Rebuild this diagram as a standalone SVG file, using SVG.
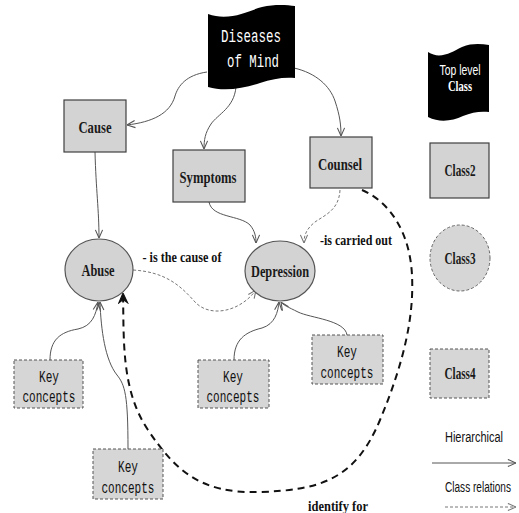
<svg xmlns="http://www.w3.org/2000/svg" width="519" height="513" viewBox="0 0 519 513">
<style>
.box{fill:#d3d3d3;stroke:#404040;stroke-width:1.2}
.kc{fill:#d6d6d6;stroke:#555;stroke-width:1;stroke-dasharray:3,2}
.ell{fill:#d3d3d3;stroke:#555;stroke-width:1.2}
.ell3{fill:#d6d6d6;stroke:#666;stroke-width:1;stroke-dasharray:3,2}
.flag{fill:#000}
.bt{font-family:"Liberation Serif",serif;font-weight:bold;font-size:17px;fill:#1a1a1a;text-anchor:middle}
.lb{font-family:"Liberation Serif",serif;font-weight:bold;font-size:15px;fill:#111;text-anchor:middle}
.mono{font-family:"Liberation Mono",monospace;font-size:17px;fill:#111;text-anchor:middle}
.monow{font-family:"Liberation Mono",monospace;font-size:18px;fill:#fff;text-anchor:middle}
.sans{font-family:"Liberation Sans",sans-serif;font-size:14px;fill:#111;text-anchor:middle}
.h{fill:none;stroke:#555;stroke-width:1}
.r{fill:none;stroke:#777;stroke-width:1;stroke-dasharray:3,2}
.idf{fill:none;stroke:#111;stroke-width:2;stroke-dasharray:7,5}
</style>
<defs>
<marker id="ah" viewBox="0 0 10 10" refX="10" refY="5" markerWidth="9" markerHeight="9" orient="auto" markerUnits="userSpaceOnUse"><path d="M1,1 L10,5 L1,9" fill="none" stroke="#555" stroke-width="1.2"/></marker>
<marker id="ar" viewBox="0 0 10 10" refX="10" refY="5" markerWidth="9" markerHeight="9" orient="auto" markerUnits="userSpaceOnUse"><path d="M1,1 L10,5 L1,9" fill="none" stroke="#777" stroke-width="1.2"/></marker>
<marker id="ak" viewBox="0 0 10 10" refX="10" refY="5" markerWidth="11" markerHeight="11" orient="auto" markerUnits="userSpaceOnUse"><path d="M1,1 L10,5 L1,9 L4,5 Z" fill="#111" stroke="#111" stroke-width="1"/></marker>
</defs>

<g id="connectors">
<path class="h" d="M207,72 C186,75 178,86 175,96 C170,114 152,122 127,125" marker-end="url(#ah)"/>
<path class="h" d="M236,87 C234,108 218,114 211,124 C205,133 204,140 204,149" marker-end="url(#ah)"/>
<path class="h" d="M294,68 C316,73 330,86 335,101 C340,116 341,125 341,136" marker-end="url(#ah)"/>
<path class="h" d="M95,152 C96,190 99,210 99,238" marker-end="url(#ah)"/>
<path class="h" d="M209,202 C212,218 240,215 250,225 C255,231 256,237 256,243" marker-end="url(#ah)"/>
<path class="h" d="M50,360 C50,340 60,332 78,329 C92,326 96,315 98,302" marker-end="url(#ah)"/>
<path class="h" d="M128,449 C128,395 125,385 117,375 C105,360 101,330 100,302" marker-end="url(#ah)"/>
<path class="h" d="M234,360 C234,340 245,332 262,328 C275,324 278,312 279,302" marker-end="url(#ah)"/>
<path class="h" d="M347,335 C345,320 310,318 298,312 C288,307 283,305 281,302" marker-end="url(#ah)"/>
<path class="r" d="M133,270 C165,272 180,285 195,302 C210,318 240,312 256,290" marker-end="url(#ar)"/>
<path class="r" d="M340,190 C339,210 325,215 315,222 C305,230 304,237 304,243" marker-end="url(#ar)"/>
<path class="idf" d="M362,190 C392,203 410,235 412,275 S405,360 380,420 S320,490 260,492 S175,470 148,430 S124,340 123,293" marker-end="url(#ak)"/>
<text class="lb" x="182" y="262" textLength="79" lengthAdjust="spacingAndGlyphs">- is the cause of</text>
<text class="lb" x="356" y="245" textLength="72" lengthAdjust="spacingAndGlyphs">-is carried out</text>
<text class="lb" x="338" y="511" textLength="60" lengthAdjust="spacingAndGlyphs">identify  for</text>
</g>

<g id="diseases">
<path class="flag" d="M208,14 C230,22 250,10 262,7 C275,4 287,5 295,6 L295,78 C283,77 272,79 260,83 C245,88 225,92 208,87 Z"/>
<text class="monow" x="251" y="42" textLength="60" lengthAdjust="spacingAndGlyphs">Diseases</text>
<text class="monow" x="253" y="67" textLength="52" lengthAdjust="spacingAndGlyphs">of Mind</text>
</g>

<g id="cause">
<rect class="box" x="64" y="100" width="62" height="52"/>
<text class="bt" x="95" y="133" textLength="33" lengthAdjust="spacingAndGlyphs">Cause</text>
</g>
<g id="symptoms">
<rect class="box" x="173" y="150" width="72" height="52"/>
<text class="bt" x="208" y="183" textLength="57" lengthAdjust="spacingAndGlyphs">Symptoms</text>
</g>
<g id="counsel">
<rect class="box" x="310" y="137" width="62" height="51"/>
<text class="bt" x="340" y="170" textLength="44" lengthAdjust="spacingAndGlyphs">Counsel</text>
</g>
<g id="abuse">
<ellipse class="ell" cx="99" cy="270" rx="34" ry="31"/>
<text class="bt" x="98" y="276" textLength="33" lengthAdjust="spacingAndGlyphs">Abuse</text>
</g>
<g id="depression">
<ellipse class="ell" cx="280" cy="271" rx="35" ry="30"/>
<text class="bt" x="280" y="277" textLength="58" lengthAdjust="spacingAndGlyphs">Depression</text>
</g>

<g id="kc1">
<rect class="kc" x="14" y="360" width="69" height="48"/>
<text class="mono" x="49" y="382" textLength="20" lengthAdjust="spacingAndGlyphs">Key</text>
<text class="mono" x="49" y="402" textLength="53" lengthAdjust="spacingAndGlyphs">concepts</text>
</g>
<g id="kc2">
<rect class="kc" x="198" y="360" width="71" height="48"/>
<text class="mono" x="233" y="382" textLength="20" lengthAdjust="spacingAndGlyphs">Key</text>
<text class="mono" x="233" y="402" textLength="53" lengthAdjust="spacingAndGlyphs">concepts</text>
</g>
<g id="kc3">
<rect class="kc" x="93" y="449" width="70" height="50"/>
<text class="mono" x="128" y="472" textLength="20" lengthAdjust="spacingAndGlyphs">Key</text>
<text class="mono" x="128" y="493" textLength="53" lengthAdjust="spacingAndGlyphs">concepts</text>
</g>
<g id="kc4">
<rect class="kc" x="312" y="335" width="71" height="49"/>
<text class="mono" x="347" y="357" textLength="20" lengthAdjust="spacingAndGlyphs">Key</text>
<text class="mono" x="347" y="378" textLength="53" lengthAdjust="spacingAndGlyphs">concepts</text>
</g>

<g id="legend-top">
<path class="flag" d="M428,52 C440,60 452,52 462,47 C472,43 481,44 489,45 L489,112 C481,111 472,112 463,116 C452,121 440,123 428,117 Z"/>
<text x="460" y="75" textLength="41" lengthAdjust="spacingAndGlyphs" style="font-family:'Liberation Sans',sans-serif;font-size:15px;fill:#fff;text-anchor:middle">Top level</text>
<text x="460" y="91" textLength="24" lengthAdjust="spacingAndGlyphs" style="font-family:'Liberation Serif',serif;font-weight:bold;font-size:15px;fill:#fff;text-anchor:middle">Class</text>
</g>
<g id="legend-class2">
<rect class="box" x="430" y="143" width="59" height="55"/>
<text class="bt" x="460" y="176" textLength="31" lengthAdjust="spacingAndGlyphs">Class2</text>
</g>
<g id="legend-class3">
<ellipse class="ell3" cx="460" cy="258" rx="30" ry="33"/>
<text class="bt" x="460" y="264" textLength="31" lengthAdjust="spacingAndGlyphs">Class3</text>
</g>
<g id="legend-class4">
<rect class="kc" x="430" y="349" width="59" height="49"/>
<text class="bt" x="460" y="379" textLength="31" lengthAdjust="spacingAndGlyphs">Class4</text>
</g>
<g id="legend-lines">
<text class="sans" x="474" y="442" textLength="58" lengthAdjust="spacingAndGlyphs">Hierarchical</text>
<path class="h" d="M432,463 L516,463" marker-end="url(#ah)"/>
<text class="sans" x="478" y="492" textLength="66" lengthAdjust="spacingAndGlyphs">Class relations</text>
<path class="r" d="M445,507 L516,507" marker-end="url(#ar)"/>
</g>
</svg>
